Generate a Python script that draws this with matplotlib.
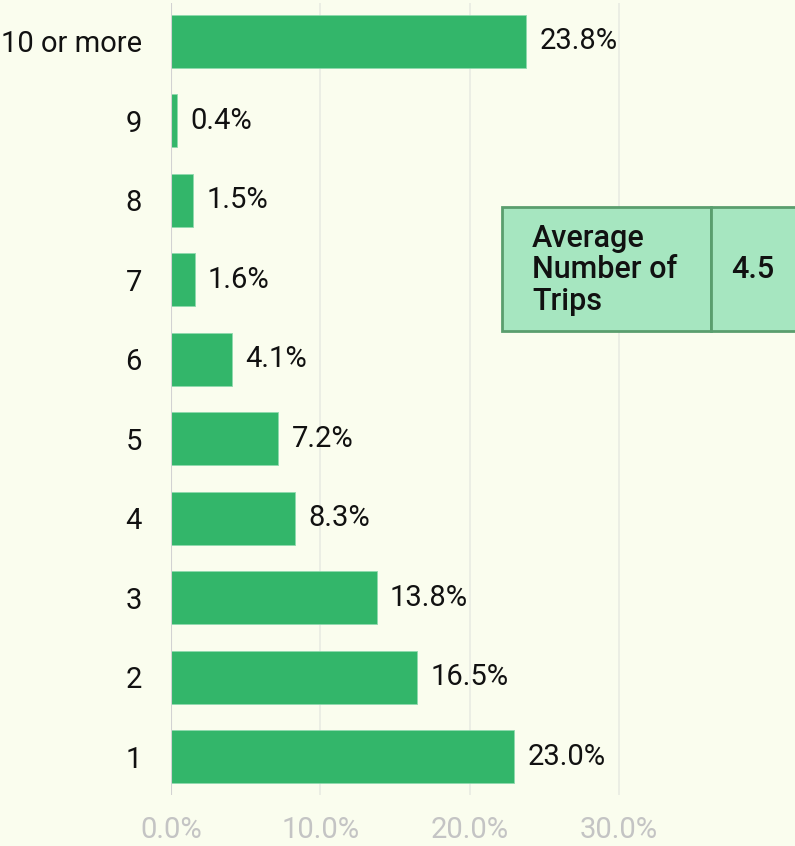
import matplotlib.pyplot as plt
from matplotlib.patches import Rectangle

categories = ["1", "2", "3", "4", "5", "6", "7", "8", "9", "10 or more"]
shares = [23.0, 16.5, 13.8, 8.3, 7.2, 4.1, 1.6, 1.5, 0.4, 23.8]
avg_label = "Average\nNumber of\nTrips"
avg_value = "4.5"
xticks = [0, 10, 20, 30]

bg = "#FAFDEE"
bar_color = "#33B66A"

plt.rcParams['font.family'] = ['Roboto', 'DejaVu Sans']

fig = plt.figure(figsize=(7.95, 8.46), dpi=100, facecolor=bg)
ax = fig.add_axes([171 / 795, 1 - 795 / 846, 1 - 171 / 795, 792 / 846])
ax.set_facecolor(bg)

y = range(len(categories))
ax.barh(y, shares, height=0.67, color=bar_color, edgecolor="#8FD9AE", linewidth=0.6, zorder=3)
for yi, v in zip(y, shares):
    ax.annotate(f"{v:.1f}%", (v, yi), xytext=(13, 0), textcoords="offset pixels",
                va="center", ha="left", fontsize=21, color="#111111")

ax.set_xlim(0, (795 - 171) / 14.93)
ax.set_ylim(-0.48, len(categories) - 0.52)
ax.set_yticks(list(y))
ax.set_yticklabels(categories, fontsize=21, color="#111111")
ax.set_xticks(xticks)
ax.set_xticklabels([f"{t:.1f}%" for t in xticks], fontsize=21, color="#C4C4C4")
ax.tick_params(axis="y", length=0, pad=21)
ax.tick_params(axis="x", length=0, pad=15)
ax.grid(axis="x", color="#E9EBE2", linewidth=1.2, zorder=0)
ax.axvline(0, color="#D2D2D2", linewidth=1.5, zorder=4)
for s in ax.spines.values():
    s.set_visible(False)

# average box, drawn in figure pixels
W, H = 795, 846
fc, ec = "#A6E6C0", "#5A9E6E"
x0, x1, x2 = 502, 711, 796
ytop, ybot = 207, 331
for a, b in [(x0, x1), (x1, x2)]:
    fig.patches.append(Rectangle((a / W, 1 - ybot / H), (b - a) / W, (ybot - ytop) / H,
                                 transform=fig.transFigure, facecolor=fc, edgecolor=ec,
                                 linewidth=2, zorder=5))
fig.text(532 / W, 1 - 270 / H, avg_label, fontsize=22, fontweight="medium",
         va="center", ha="left", linespacing=1.12, color="#111111", zorder=6)
fig.text(753 / W, 1 - 270 / H, avg_value, fontsize=22, fontweight="medium",
         va="center", ha="center", color="#111111", zorder=6)

fig.savefig("out.png", dpi=100, facecolor=bg)
